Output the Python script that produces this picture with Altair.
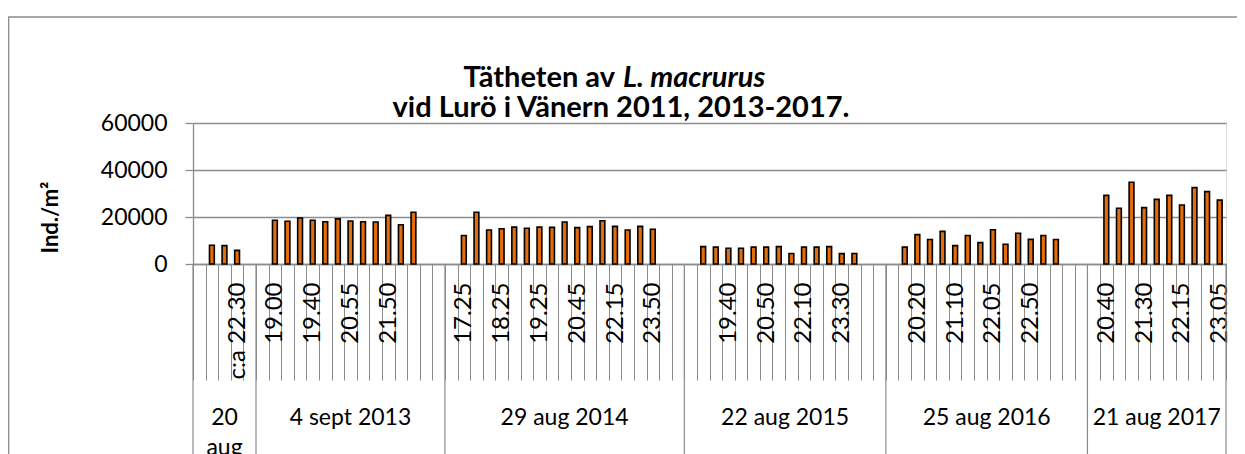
import json
import altair as alt
import pandas as pd

# ---------------- data ----------------
group_names = ["20\naug\n2011", "4 sept 2013", "29 aug 2014", "22 aug 2015", "25 aug 2016", "21 aug 2017"]
group_slots = [5, 15, 19, 16, 16, 11]

values_2011 = [8000, 7800, 5800]
values_2013 = [18600, 18200, 19600, 18600, 18000, 19200, 18300, 18000, 17900, 20700, 16700, 22000]
values_2014 = [12100, 22000, 14500, 15000, 15700, 15200, 15700, 15600, 17900, 15500, 15900, 18400,
               16000, 14500, 16000, 14800]
values_2015 = [7400, 7200, 6700, 6700, 7200, 7200, 7400, 4500, 7200, 7200, 7400, 4400, 4500]
values_2016 = [7200, 12500, 10400, 13900, 7800, 12100, 9100, 14600, 8400, 13100, 10500, 12100, 10400]
values_2017 = [29200, 23700, 34800, 24000, 27500, 29200, 25100, 32500, 30800, 27200]
group_values = [values_2011, values_2013, values_2014, values_2015, values_2016, values_2017]

tick_labels = [""] * 82
shown_labels = {
    3: "c:a 22.30",
    6: "19.00", 9: "19.40", 12: "20.55", 15: "21.50",
    21: "17.25", 24: "18.25", 27: "19.25", 30: "20.45", 33: "22.15", 36: "23.50",
    42: "19.40", 45: "20.50", 48: "22.10", 51: "23.30",
    57: "20.20", 60: "21.10", 63: "22.05", 66: "22.50",
    72: "20.40", 75: "21.30", 78: "22.15", 81: "23.05",
}
for k, v in shown_labels.items():
    tick_labels[k] = v

title_line1 = ["Tätheten av", "L. macrurus"]
title_line2 = "vid Lurö i Vänern 2011, 2013-2017."
y_title = "Ind./m²"

# ---------------- tables ----------------
bar_rows, group_rows = [], []
start = 0
for name, n, vals in zip(group_names, group_slots, group_values):
    for i, v in enumerate(vals):
        bar_rows.append({"slot": start + 1 + i, "value": v})
    group_rows.append({"start": start, "end": start + n, "name": name})
    start += n
n_slots = start
bars = pd.DataFrame(bar_rows)
groups = pd.DataFrame(group_rows)
bounds = pd.DataFrame({"b": [g["start"] for g in group_rows] + [n_slots]})

# ---------------- layout ----------------
W, H = 1033, 141
PAD_L, PAD_T = 185, 115
FONT = "Lato"
GRID = "#8c8c8c"

label_expr = json.dumps(tick_labels, ensure_ascii=False) + "[datum.value]"

x_band = alt.X(
    "slot:O",
    scale=alt.Scale(domain=list(range(n_slots)), paddingInner=0, paddingOuter=0),
    axis=alt.Axis(
        title=None, tickBand="extent", tickSize=116, tickColor=GRID, tickWidth=1,
        domainColor=GRID, domainWidth=1.3,
        labelAngle=270, labelAlign="right", labelBaseline="middle",
        labelPadding=-98, labelExpr=label_expr, labelFont=FONT, labelFontSize=24,
        labelColor="black", labelOverlap=False, labelBound=False, labelFlush=False,
    ),
)
y_q = alt.Y(
    "value:Q",
    scale=alt.Scale(domain=[0, 60000], nice=False),
    axis=alt.Axis(
        values=[0, 20000, 40000, 60000], format="d", title=y_title,
        titleFont=FONT, titleFontSize=22, titleFontWeight="bold", titleColor="black",
        titleAngle=270, titleX=-143, titleY=94, titleAlign="center", titleBaseline="middle",
        grid=True, gridColor=GRID, gridWidth=1.3, domainColor=GRID, domainWidth=1.3,
        tickColor=GRID, tickSize=8, tickWidth=1.3,
        labelFont=FONT, labelFontSize=23, labelColor="black", labelPadding=18,
    ),
)

bar_layer = alt.Chart(bars).mark_bar(
    width=4.8, color="#E46C0A", stroke="black", strokeWidth=1.6
).encode(x=x_band, y=y_q)

xq = alt.Scale(domain=[0, n_slots], nice=False, zero=False)

divider_layer = alt.Chart(bounds).mark_rule(color=GRID, strokeWidth=1.2).encode(
    x=alt.X("b:Q", scale=xq, axis=None),
    y=alt.value(H), y2=alt.value(H + 400),
)

group_text = alt.Chart(groups).transform_calculate(
    mid="(datum.start + datum.end) / 2"
).mark_text(
    font=FONT, fontSize=23, color="black", baseline="alphabetic", lineBreak="\n", lineHeight=30
).encode(
    x=alt.X("mid:Q", scale=xq, axis=None),
    y=alt.value(H + 161),
    text="name:N",
)

TITLE_SIZE = 29
T1_X = 422
t1a = alt.Chart(pd.DataFrame({"t": [title_line1[0]]})).mark_text(
    font=FONT, fontSize=TITLE_SIZE, fontWeight="bold", color="black", align="right",
    baseline="alphabetic"
).encode(x=alt.value(T1_X), y=alt.value(-36), text="t:N")
t1b = alt.Chart(pd.DataFrame({"t": [title_line1[1]]})).mark_text(
    font=FONT, fontSize=TITLE_SIZE, fontWeight="bold", fontStyle="italic", color="black",
    align="left", baseline="alphabetic", dx=8
).encode(x=alt.value(T1_X), y=alt.value(-36), text="t:N")
t2 = alt.Chart(pd.DataFrame({"t": [title_line2]})).mark_text(
    font=FONT, fontSize=TITLE_SIZE, fontWeight="bold", color="black", align="center",
    baseline="alphabetic"
).encode(x=alt.value(428), y=alt.value(-6), text="t:N")

border = alt.Chart(pd.DataFrame({"k": [0]})).mark_rect(
    fill=None, stroke=GRID, strokeWidth=1.3
).encode(
    x=alt.value(-PAD_L + 0.7), x2=alt.value(W + 200),
    y=alt.value(-PAD_T + 9), y2=alt.value(H + 400),
)

chart = alt.layer(
    border, bar_layer, divider_layer, group_text, t1a, t1b, t2
).resolve_scale(x="independent").properties(
    width=W, height=H,
    autosize=alt.AutoSizeParams(type="none"),
    padding={"left": PAD_L, "top": PAD_T, "right": 11, "bottom": 190},
).configure_view(stroke=None).configure(background="white")

chart.save("out.html", embed_options={"renderer": "svg", "actions": False})
